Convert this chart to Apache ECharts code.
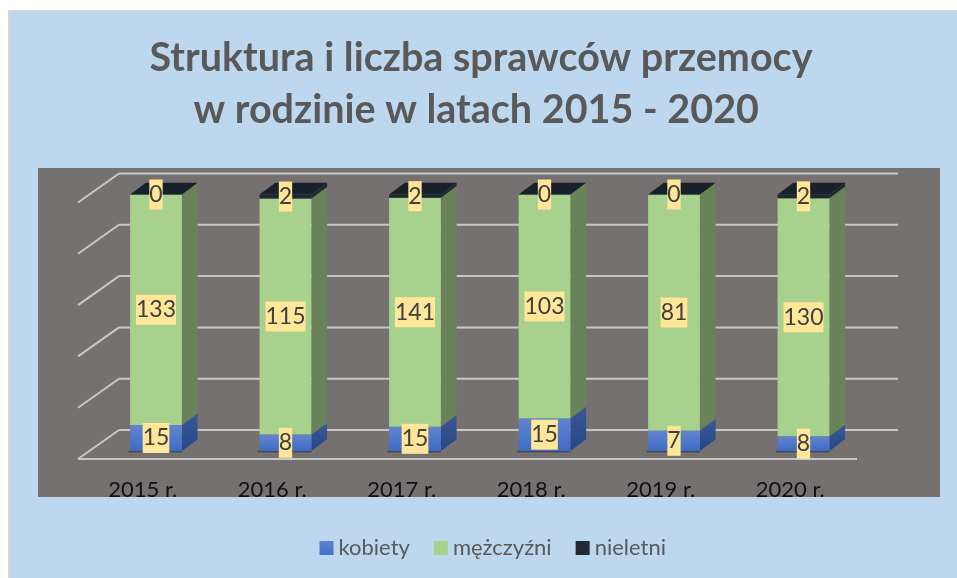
<!DOCTYPE html>
<html>
<head>
<meta charset="utf-8">
<style>
    html, body { margin: 0; padding: 0; background: #fff; }
    #chart { width: 957px; height: 578px; }
</style>
<script src="https://cdn.jsdelivr.net/npm/echarts@6/dist/echarts.min.js"></script>
</head>
<body>
<div id="chart"></div>
<script>
// Data
const years = ['2015 r.', '2016 r.', '2017 r.', '2018 r.', '2019 r.', '2020 r.'];
const kobiety = [15, 8, 15, 15, 7, 8];
const mezczyzni = [133, 115, 141, 103, 81, 130];
const nieletni = [0, 2, 2, 0, 0, 2];
const gridTicks = [0, 20, 40, 60, 80, 100];
const seriesNames = ['kobiety', 'mężczyźni', 'nieletni'];

const FONT = 'Lato';

// Fake 3D offsets
const WALL_DX = 41, WALL_DY = 29;    // floor front edge -> back wall
const BAR_DX = 13.25, BAR_DY = 8;    // floor front edge -> bar front face
const DEPTH_DX = 15.7, DEPTH_DY = 11.7; // bar front -> bar back
const LINE_OVERRUN = 2;              // grid lines run a bit past the last band

function vGrad(top, bottom) {
    return new echarts.graphic.LinearGradient(0, 0, 0, 1, [
        { offset: 0, color: top },
        { offset: 1, color: bottom }
    ]);
}

const faces = [
    { front: vGrad('#6484cd', '#3c6cc6'), side: vGrad('#3a5a96', '#264684'), top: '#3a5a96', legend: vGrad('#5f83cf', '#4070c8') },
    { front: '#a9d18e', side: '#6a8259', top: '#6a8259', legend: '#a9d18e' },
    { front: vGrad('#1a222b', '#222c38'), side: '#1e2833', top: '#18202a', legend: '#222a35' }
];

const stacks = [kobiety, mezczyzni, nieletni];
const totals = years.map((_, i) => kobiety[i] + mezczyzni[i] + nieletni[i]);

// Share of each year's total below / up to a stack level, in percent
function sharePct(level, i) {
    let sum = 0;
    for (let s = 0; s < level; s++) sum += stacks[s][i];
    return sum / totals[i] * 100;
}

function barSeries(level) {
    const face = faces[level];
    return {
        name: seriesNames[level],
        type: 'custom',
        silent: true,
        itemStyle: { color: face.legend },
        data: years.map((y, i) => [i, sharePct(level, i), sharePct(level + 1, i), stacks[level][i]]),
        renderItem: function (params, api) {
            const i = api.value(0);
            const base = api.coord([i, api.value(1)]);
            const head = api.coord([i, api.value(2)]);
            const w = api.size([1, 0])[0] * 0.4;
            const x0 = base[0] + BAR_DX - w / 2;
            const x1 = x0 + w;
            const yb = base[1] - BAR_DY;
            const yt = head[1] - BAR_DY;
            const children = [];
            if (level === 0) {
                // contact shadow under the bar
                children.push({
                    type: 'rect',
                    shape: { x: x0 - 1.5, y: yb - 0.5, width: w + 1.5, height: 2 },
                    style: { fill: '#4c4a4a' }
                });
            }
            if (yb > yt) {
                children.push({
                    type: 'polygon',
                    shape: { points: [[x1, yb], [x1 + DEPTH_DX, yb - DEPTH_DY], [x1 + DEPTH_DX, yt - DEPTH_DY], [x1, yt]] },
                    style: { fill: face.side }
                });
                children.push({
                    type: 'rect',
                    shape: { x: x0, y: yt, width: w, height: yb - yt },
                    style: { fill: face.front }
                });
            }
            children.push({
                type: 'polygon',
                shape: { points: [[x0, yt], [x1, yt], [x1 + DEPTH_DX, yt - DEPTH_DY], [x0 + DEPTH_DX, yt - DEPTH_DY]] },
                style: { fill: face.top }
            });
            children.push({
                type: 'text',
                z2: 100,
                style: {
                    x: (x0 + x1) / 2,
                    y: (yt + yb) / 2,
                    text: String(api.value(3)),
                    align: 'center',
                    verticalAlign: 'middle',
                    font: '23px ' + FONT,
                    lineHeight: 30,
                    fill: '#404040',
                    backgroundColor: '#ffe699'
                }
            });
            return { type: 'group', children: children };
        }
    };
}

const wallSeries = {
    type: 'custom',
    silent: true,
    data: gridTicks.map(v => [0, v]),
    renderItem: function (params, api) {
        const cs = params.coordSys;
        const y = api.coord([0, api.value(1)])[1];
        const right = cs.x + cs.width + LINE_OVERRUN;
        const line = { stroke: '#c9c7c6', lineWidth: 2 };
        const children = [
            { type: 'line', shape: { x1: cs.x, y1: y, x2: cs.x + WALL_DX, y2: y - WALL_DY }, style: line },
            { type: 'line', shape: { x1: cs.x + WALL_DX, y1: y - WALL_DY, x2: right + WALL_DX, y2: y - WALL_DY }, style: line }
        ];
        if (api.value(1) === 0) {
            children.push({ type: 'line', shape: { x1: cs.x, y1: y, x2: right, y2: y }, style: line });
        }
        return { type: 'group', children: children };
    }
};

const chart = echarts.init(document.getElementById('chart'));

chart.setOption({
    animation: false,
    backgroundColor: '#ffffff',
    graphic: [
        {
            type: 'rect',
            z: -2,
            shape: { x: 9, y: 11, width: 950, height: 570 },
            style: { fill: '#bdd7ee', stroke: '#d6d6d6', lineWidth: 2 }
        },
        {
            type: 'rect',
            z: -1,
            shape: { x: 38, y: 168, width: 902, height: 329 },
            style: { fill: '#767171' }
        }
    ],
    title: {
        text: 'Struktura i liczba sprawców przemocy\nw rodzinie w latach 2015 - 2020 ',
        left: 481,
        top: 32,
        padding: 0,
        textAlign: 'center',
        textStyle: {
            fontFamily: FONT,
            fontWeight: 'bold',
            fontSize: 39.5,
            lineHeight: 52,
            color: '#595959'
        }
    },
    legend: {
        data: seriesNames,
        left: 319.5,
        top: 537,
        padding: 0,
        icon: 'rect',
        itemWidth: 14,
        itemHeight: 14,
        itemGap: 24,
        textStyle: { fontFamily: FONT, fontSize: 22, color: '#595959' },
        selectedMode: false
    },
    grid: { left: 78, right: 102, top: 202.5, height: 256.5 },
    xAxis: {
        type: 'category',
        data: years,
        axisLine: { show: false },
        axisTick: { show: false },
        axisLabel: { fontFamily: FONT, fontSize: 22, color: '#111111', margin: 20 }
    },
    yAxis: {
        type: 'value',
        min: 0,
        max: 100,
        interval: 20,
        axisLine: { show: false },
        axisTick: { show: false },
        axisLabel: { show: false },
        splitLine: { show: false }
    },
    series: [wallSeries, barSeries(0), barSeries(1), barSeries(2)]
});
</script>
</body>
</html>
